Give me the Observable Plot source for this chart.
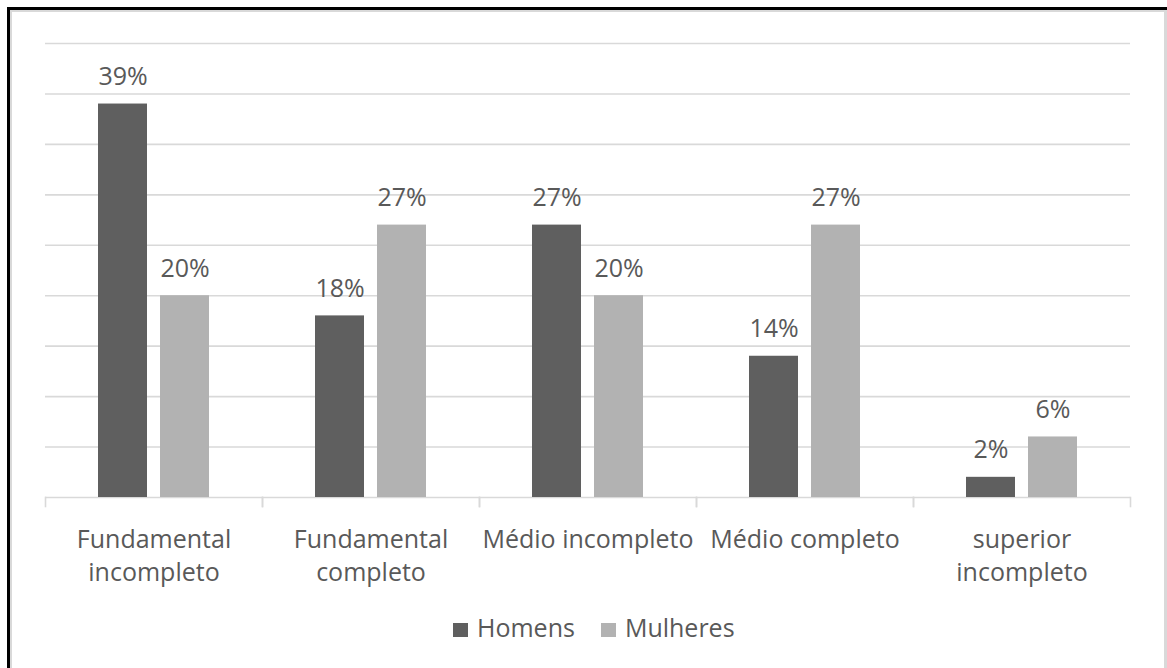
<!DOCTYPE html>
<html>
<head>
<meta charset="utf-8">
<script src="https://cdn.jsdelivr.net/npm/d3@7"></script>
<script src="https://cdn.jsdelivr.net/npm/@observablehq/plot@0.6"></script>
<style>
  html, body { margin: 0; padding: 0; background: #fff; }
  body { width: 1167px; height: 668px; position: relative; overflow: hidden; font-family: 'Open Sans', sans-serif; }
  #chart { position: absolute; left: 0; top: 0; }
  .frame-outer { position: absolute; left: 7px; top: 7px; width: 1160px; height: 661px; border-top: 3px solid #000; border-left: 3px solid #000; box-sizing: border-box; pointer-events: none; }
  .frame-inner { position: absolute; left: 10px; top: 10px; width: 1157px; height: 658px; border-top: 2px solid #d9d9d9; border-left: 2px solid #d9d9d9; border-right: 3px solid #d9d9d9; box-sizing: border-box; pointer-events: none; }
  #legend { position: absolute; left: 453px; top: 612px; display: flex; align-items: baseline; font-size: 25px; color: #595959; line-height: 30px; }
  #legend .item { display: flex; align-items: baseline; margin-right: 26px; }
  #legend .sw { display: inline-block; width: 15px; height: 14px; margin-right: 9px; }
</style>
</head>
<body>
<div id="chart"></div>
<div id="legend"></div>
<div class="frame-inner"></div>
<div class="frame-outer"></div>
<script>
const categories = ["Fundamental incompleto", "Fundamental completo", "Médio incompleto", "Médio completo", "superior incompleto"];
const tickLabels = ["Fundamental\nincompleto", "Fundamental\ncompleto", "Médio incompleto", "Médio completo", "superior\nincompleto"];
const series = ["Homens", "Mulheres"];
const homens = [39, 18, 27, 14, 2];
const mulheres = [20, 27, 20, 27, 6];
const seriesColors = ["#5f5f5f", "#b2b2b2"];
const yTicks = [0, 5, 10, 15, 20, 25, 30, 35, 40, 45];

const seriesValues = [homens, mulheres];
const rows = [];
categories.forEach((c, i) => {
  series.forEach((s, j) => rows.push({cat: c, series: s, value: seriesValues[j][i]}));
});

const textColor = "#595959";
const gridColor = "#d9d9d9";

const plot = Plot.plot({
  width: 1167,
  height: 600,
  marginLeft: 44,
  marginRight: 36,
  marginTop: 43,
  marginBottom: 103,
  style: {fontFamily: "'Open Sans', sans-serif", fontSize: "25px", color: textColor, background: "transparent"},
  fx: {domain: categories, padding: 0, label: null},
  x: {domain: series, paddingInner: 0.216, paddingOuter: 0.848, axis: null},
  y: {domain: [0, 45], axis: null},
  color: {domain: series, range: seriesColors},
  marks: [
    Plot.gridY(yTicks, {stroke: gridColor, strokeOpacity: 1, strokeWidth: 1.6}),
    Plot.frame({anchor: "left", stroke: gridColor, strokeOpacity: 1, strokeWidth: 1.6, insetTop: 454, insetBottom: -9}),
    Plot.frame({anchor: "right", stroke: gridColor, strokeOpacity: 1, strokeWidth: 1.6, insetTop: 454, insetBottom: -9}),
    Plot.barY(rows, {fx: "cat", x: "series", y: "value", fill: "series"}),
    Plot.text(rows, {fx: "cat", x: "series", y: "value", text: d => d.value + "%", lineAnchor: "bottom", dy: -19, fill: textColor, fontSize: 25}),
    Plot.axisFx({anchor: "bottom", tickSize: 0, tickPadding: 27, label: null, lineHeight: 1.32, fontSize: 25, color: textColor,
      tickFormat: d => tickLabels[categories.indexOf(d)]})
  ]
});
document.getElementById("chart").appendChild(plot);

const legend = document.getElementById("legend");
series.forEach((s, i) => {
  const item = document.createElement("span");
  item.className = "item";
  const sw = document.createElement("span");
  sw.className = "sw";
  sw.style.background = seriesColors[i];
  item.appendChild(sw);
  item.appendChild(document.createTextNode(s));
  legend.appendChild(item);
});
</script>
</body>
</html>
